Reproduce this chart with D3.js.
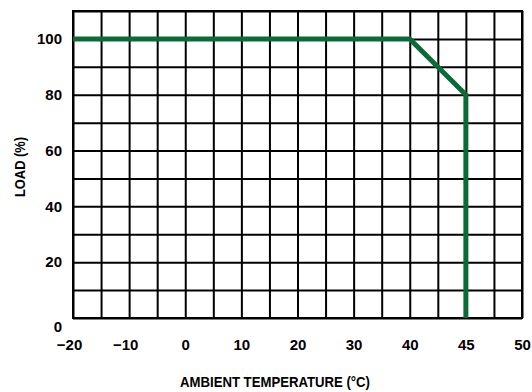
<!DOCTYPE html>
<html>
<head>
<meta charset="utf-8">
<script src="https://cdn.jsdelivr.net/npm/d3@7"></script>
<style>
  body { margin: 0; background: #fff; }
  text { font-family: "Liberation Sans", Arial, sans-serif; font-weight: bold; fill: #000; }
</style>
</head>
<body>
<svg id="chart" width="532" height="392"></svg>
<script>
// derating curve: ambient temperature (°C) vs load (%)
var tempData = [-20, 40, 45, 45];
var loadData = [100, 100, 80, 0];

var xTickValues = [-20, -10, 0, 10, 20, 30, 40, 45, 50];
var yTickValues = [0, 20, 40, 60, 80, 100];
var xGridValues = [-20, -15, -10, -5, 0, 5, 10, 15, 20, 25, 30, 35, 40, 42.5, 45, 47.5, 50];
var yGridValues = [0, 10, 20, 30, 40, 50, 60, 70, 80, 90, 100, 110];

var xTitle = "AMBIENT TEMPERATURE (°C)",
    yTitle = "LOAD (%)";

var margin = {top: 11, right: 10, bottom: 74, left: 73},
    width = 532 - margin.left - margin.right,
    height = 392 - margin.top - margin.bottom;

var svg = d3.select("#chart");

// the axis is not uniform past 40: 40-45 and 45-50 each take two grid columns
var col = width / 16;
var xScale = d3.scaleLinear()
    .domain([-20, 40, 45, 50])
    .range([margin.left, margin.left + 12 * col, margin.left + 14 * col, margin.left + 16 * col]);
var yScale = d3.scaleLinear()
    .domain([0, 110])
    .range([margin.top + height, margin.top]);

// grid
svg.append("g")
    .attr("transform", "translate(0," + (margin.top + height) + ")")
    .call(d3.axisBottom(xScale).tickValues(xGridValues).tickSize(-height).tickFormat(""))
    .call(g => g.select(".domain").remove())
    .call(g => g.selectAll("line").attr("stroke", "#000").attr("stroke-width", 2));
svg.append("g")
    .attr("transform", "translate(" + margin.left + ",0)")
    .call(d3.axisLeft(yScale).tickValues(yGridValues).tickSize(-width).tickFormat(""))
    .call(g => g.select(".domain").remove())
    .call(g => g.selectAll("line").attr("stroke", "#000").attr("stroke-width", 2));

svg.append("rect")
    .attr("x", margin.left)
    .attr("y", margin.top)
    .attr("width", width)
    .attr("height", height)
    .attr("fill", "none")
    .attr("stroke", "#000")
    .attr("stroke-width", 2);

// tick labels
var fmt = d => d < 0 ? "\u2212" + Math.abs(d) : "" + d;

svg.append("g")
    .attr("transform", "translate(0," + (margin.top + height) + ")")
    .call(d3.axisBottom(xScale).tickValues(xTickValues).tickSize(0).tickPadding(21).tickFormat(fmt))
    .call(g => g.select(".domain").remove())
    .call(g => g.selectAll("text")
        .attr("font-size", 15)
        .attr("font-family", null)
        .attr("dx", d => d < 0 ? -4 : 0));

svg.append("g")
    .attr("transform", "translate(" + margin.left + ",0)")
    .call(d3.axisLeft(yScale).tickValues(yTickValues).tickSize(0).tickPadding(11).tickFormat(fmt))
    .call(g => g.select(".domain").remove())
    .call(g => g.selectAll("text")
        .attr("font-size", 15)
        .attr("font-family", null)
        .attr("dy", d => d == 0 ? 13 : "0.32em"));

// axis titles (squeezed to mimic the narrow font of the original)
svg.append("text")
    .attr("x", 275)
    .attr("y", 387)
    .attr("text-anchor", "middle")
    .attr("font-size", 15)
    .attr("textLength", 190)
    .attr("lengthAdjust", "spacingAndGlyphs")
    .text(xTitle);

svg.append("text")
    .attr("transform", "translate(25," + 167 + ") rotate(-90)")
    .attr("text-anchor", "middle")
    .attr("font-size", 15)
    .attr("textLength", 60)
    .attr("lengthAdjust", "spacingAndGlyphs")
    .text(yTitle);

// curve
var points = tempData.map((t, i) => ({x: t, y: loadData[i]}));
var line = d3.line()
    .x(d => xScale(d.x))
    .y(d => yScale(d.y));

svg.append("path")
    .datum(points)
    .attr("fill", "none")
    .attr("stroke", "#0b6b38")
    .attr("stroke-width", 5)
    .attr("stroke-linejoin", "miter")
    .attr("d", line);
</script>
</body>
</html>
